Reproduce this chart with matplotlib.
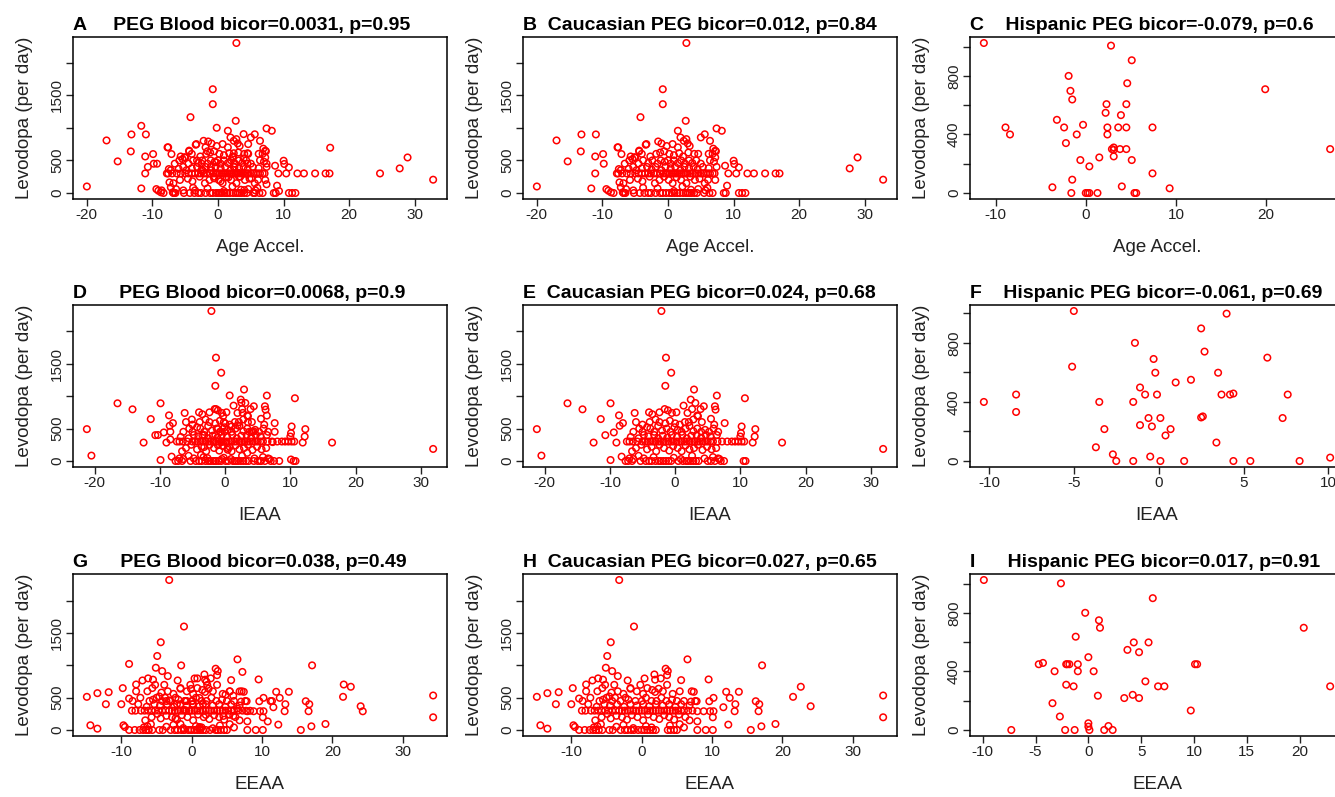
import matplotlib
matplotlib.use("Agg")
import matplotlib.pyplot as plt
from matplotlib.ticker import MultipleLocator

plt.rcParams['font.family'] = ['Liberation Sans', 'DejaVu Sans']
plt.rcParams['axes.unicode_minus'] = False

# (x, levodopa per day) pairs
# row 1: Age Accel.
cauc_age = [
    (-20.0, 100), (-17.0, 806), (-15.3, 485), (-13.2, 898), (-13.3, 638), (-11.7, 70),
    (-11.0, 898), (-11.1, 560), (-11.1, 300), (-9.9, 597), (-9.8, 449), (-9.4, 60),
    (-9.1, 35), (-8.7, 10), (-8.3, 0), (-7.7, 700), (-7.8, 300), (-7.5, 367), (-7.1, 597),
    (-7.4, 163), (-7.2, 87), (-6.9, 10), (-6.7, 0), (-4.2, 1163), (-3.3, 750), (-4.4, 638),
    (-0.8, 1591), (-0.8, 1362), (2.8, 2300), (2.7, 1107), (1.5, 954), (1.9, 852), (2.8, 826),
    (5.0, 852), (5.6, 900), (6.4, 800), (7.4, 990), (8.2, 954), (7.2, 648), (7.2, 545),
    (8.7, 418), (10.0, 495), (10.1, 445), (10.8, 392), (9.2, 300), (10.4, 300), (12.1, 300),
    (13.1, 300), (14.8, 300), (16.4, 300), (17.0, 300), (9.0, 112), (8.5, 0), (8.8, 0),
    (10.8, 0), (11.3, 0), (11.8, 0), (27.7, 377), (28.9, 545), (32.8, 204),
    (-6.8, 0), (-6.5, 0), (-5.2, 0), (-4.3, 0), (-3.6, 0), (-3.0, 0), (-2.6, 0), (-1.9, 0),
    (-1.2, 0), (-0.8, 0), (-0.3, 0), (0.2, 0), (0.6, 0), (1.0, 0), (1.4, 0), (1.8, 0),
    (2.3, 0), (2.7, 0), (3.0, 0), (3.3, 0), (3.6, 0), (4.0, 0), (4.4, 0), (5.5, 0), (6.3, 0),
    (6.8, 0), (-6.4, 60), (-5.3, 40), (-3.8, 80), (-1.6, 70), (0.9, 30), (2.2, 100),
    (3.5, 50), (4.6, 60), (5.7, 40), (6.0, 80), (-6.8, 150), (-5.8, 200), (-4.6, 220),
    (-3.9, 180), (-2.8, 250), (-2.0, 150), (-1.3, 200), (-0.6, 250), (0.1, 200), (0.7, 150),
    (1.3, 240), (2.0, 200), (2.8, 150), (3.4, 250), (4.1, 200), (4.8, 220), (5.6, 150),
    (6.1, 200), (7.2, 200), (-7.6, 300), (-7.0, 300), (-6.3, 300), (-5.7, 300), (-5.0, 300),
    (-4.5, 300), (-4.0, 300), (-3.5, 300), (-3.0, 300), (-2.6, 300), (-2.2, 300), (-1.8, 300),
    (-1.2, 300), (-0.7, 300), (-0.3, 300), (0.0, 300), (0.3, 300), (0.6, 300), (0.9, 300),
    (1.2, 300), (1.5, 300), (1.8, 300), (2.1, 300), (2.4, 300), (2.7, 300), (3.0, 300),
    (3.4, 300), (3.8, 300), (4.2, 300), (4.6, 300), (5.0, 300), (5.4, 300), (5.8, 300),
    (6.1, 300), (6.4, 300), (6.8, 300), (7.1, 300), (-7.2, 350), (-6.0, 370), (-5.3, 400),
    (-4.8, 350), (-4.0, 380), (-3.2, 400), (-2.5, 360), (-1.9, 400), (-1.0, 350), (-0.4, 400),
    (0.4, 380), (1.1, 400), (1.9, 350), (2.5, 400), (3.2, 380), (3.9, 400), (4.5, 360),
    (5.3, 400), (6.2, 380), (7.4, 400), (-6.6, 450), (-5.9, 500), (-5.4, 520), (-5.0, 540),
    (-4.5, 450), (-3.8, 500), (-3.0, 460), (-2.4, 500), (-1.6, 450), (-1.1, 500), (-0.5, 480),
    (0.0, 500), (0.4, 450), (0.9, 500), (1.5, 460), (2.0, 500), (2.6, 450), (3.2, 500),
    (3.7, 460), (4.3, 500), (5.0, 450), (6.4, 500), (7.0, 480), (-5.7, 560), (-5.1, 550),
    (-4.0, 600), (-2.7, 560), (-1.8, 600), (-1.2, 620), (-0.6, 640), (0.2, 600), (0.9, 580),
    (1.7, 610), (2.3, 560), (3.1, 620), (4.0, 600), (4.6, 600), (6.2, 600), (6.8, 600),
    (7.3, 640), (-7.6, 700), (-4.4, 650), (-3.4, 740), (-1.5, 790), (-1.0, 760), (-0.2, 720),
    (0.7, 750), (1.5, 700), (2.4, 800), (3.0, 760), (3.3, 720), (6.9, 680),
]
other_age = [
    (-11.7, 1030), (-10.7, 400), (-9.3, 449), (-8.6, 40), (-3.5, 40), (-2.2, 800), (-1.9, 700),
    (-1.6, 640), (-3.2, 500), (-2.5, 450), (-2.3, 340), (-1.1, 400), (-0.6, 225), (-0.3, 470),
    (-0.2, 1000), (0.0, 0), (0.3, 0), (0.5, 0), (0.4, 180), (1.3, 0), (1.6, 240), (2.2, 550),
    (2.4, 610), (2.5, 450), (2.4, 400), (3.9, 903), (2.9, 300), (3.1, 310), (3.2, 250),
    (3.8, 300), (3.9, 530), (4.0, 45), (4.5, 610), (4.5, 450), (4.5, 300), (4.6, 750),
    (5.1, 225), (5.4, 0), (5.6, 0), (7.4, 450), (7.4, 134), (9.3, 30), (17.1, 694), (24.7, 300),
]
hisp_age = [
    (-11.3, 1025), (2.8, 1007), (5.1, 907), (-1.9, 800), (-1.7, 698), (-1.5, 639), (4.6, 750),
    (19.9, 709), (2.3, 607), (4.5, 607), (2.2, 548), (3.9, 532), (-3.2, 500), (-0.3, 466),
    (-8.9, 448), (-2.4, 448), (2.4, 448), (3.6, 448), (4.5, 448), (7.4, 448), (-8.4, 400),
    (-1.0, 400), (2.4, 400), (-2.2, 341), (2.9, 300), (3.1, 311), (3.1, 295), (3.8, 300),
    (4.5, 300), (27.1, 300), (3.1, 250), (1.5, 243), (-0.6, 225), (5.1, 225), (0.4, 182),
    (7.4, 134), (-1.5, 91), (-3.7, 39), (4.0, 45), (9.3, 32), (-1.6, 0), (0.0, 0), (0.2, 0),
    (0.4, 0), (1.3, 0), (5.4, 0), (5.6, 0),
]

# row 2: IEAA
cauc_ieaa = [
    (-21.2, 491), (-20.5, 83), (-16.5, 889), (-14.2, 796), (-12.5, 284), (-11.4, 646),
    (-10.7, 398), (-9.9, 889), (-9.9, 15), (-9.4, 440), (-9.0, 284), (-8.6, 703), (-8.5, 543),
    (-8.0, 584), (-8.2, 67), (-7.6, 0), (-2.1, 2311), (-1.4, 1592), (-0.6, 1360), (-1.5, 1158),
    (2.9, 1101), (2.4, 946), (3.1, 894), (1.3, 853), (4.4, 843), (6.1, 843), (6.2, 791),
    (6.4, 1008), (10.7, 967), (7.6, 584), (10.2, 532), (10.1, 429), (10.0, 377), (12.3, 491),
    (12.2, 377), (11.9, 284), (16.4, 284), (31.9, 186), (10.5, 0), (10.8, 0), (8.7, 300),
    (9.2, 300), (9.7, 300), (10.2, 300), (10.6, 300), (6.6, 40), (7.0, 0), (7.5, 0),
    (-7.2, 0), (-6.6, 0), (-5.3, 0), (-4.5, 0), (-4.0, 0), (-3.6, 0), (-3.0, 0), (-2.5, 0),
    (-2.2, 0), (-1.8, 0), (-1.4, 0), (-1.0, 0), (-0.6, 0), (0.5, 0), (1.2, 0), (1.7, 0),
    (2.0, 0), (2.4, 0), (2.8, 0), (3.2, 0), (3.6, 0), (5.0, 0), (5.5, 0), (6.1, 0),
    (-7.0, 40), (-6.4, 30), (-5.6, 80), (-4.8, 40), (-3.3, 60), (-0.2, 50), (0.9, 30),
    (2.6, 80), (4.5, 40), (5.8, 60), (6.8, 30), (-6.6, 150), (-6.0, 200), (-5.2, 250),
    (-4.3, 180), (-3.6, 220), (-2.9, 150), (-2.4, 250), (-1.7, 200), (-0.9, 160), (-0.3, 230),
    (0.4, 200), (1.0, 150), (1.6, 240), (2.2, 180), (2.9, 200), (3.5, 250), (4.2, 170),
    (4.9, 220), (5.6, 180), (6.3, 200), (-7.4, 300), (-7.0, 300), (-6.5, 300), (-5.8, 300),
    (-5.0, 300), (-4.6, 300), (-4.2, 300), (-3.8, 300), (-3.4, 300), (-3.0, 300), (-2.6, 300),
    (-2.2, 300), (-1.8, 300), (-1.4, 300), (-1.0, 300), (-0.6, 300), (-0.2, 300), (0.2, 300),
    (0.6, 300), (1.0, 300), (1.4, 300), (1.8, 300), (2.2, 300), (2.6, 300), (3.0, 300),
    (3.4, 300), (3.8, 300), (4.2, 300), (4.6, 300), (5.0, 300), (5.4, 300), (5.8, 300),
    (6.5, 300), (7.2, 300), (8.0, 300), (-6.8, 370), (-5.6, 350), (-4.8, 400), (-4.1, 380),
    (-3.2, 400), (-2.6, 350), (-1.9, 390), (-1.2, 360), (-0.5, 400), (0.3, 370), (1.1, 400),
    (1.8, 350), (2.5, 390), (3.3, 400), (4.0, 360), (4.7, 400), (5.4, 380), (6.4, 400),
    (-6.4, 450), (-5.5, 500), (-5.0, 450), (-4.3, 520), (-3.8, 500), (-3.2, 450), (-2.6, 540),
    (-2.0, 470), (-1.3, 500), (-0.7, 450), (-0.1, 520), (0.4, 480), (1.0, 450), (1.6, 500),
    (2.2, 540), (2.8, 460), (3.4, 500), (4.0, 450), (4.6, 480), (5.2, 450), (5.9, 500),
    (6.6, 450), (-6.0, 600), (-5.0, 560), (-3.9, 600), (-3.0, 640), (-2.4, 600), (-1.5, 580),
    (-0.8, 620), (0.0, 580), (0.7, 560), (1.5, 600), (2.1, 600), (2.8, 640), (3.5, 690),
    (4.1, 600), (5.5, 650), (6.0, 560), (-6.2, 740), (-4.0, 750), (-3.5, 720), (-2.4, 750),
    (-1.6, 800), (-1.1, 780), (-0.5, 740), (0.2, 750), (1.9, 740), (2.6, 800), (3.4, 700),
    (3.9, 800),
]
other_ieaa = [
    (0.7, 1010), (-10.3, 400), (-8.4, 450), (-8.4, 332), (-5.1, 639), (-3.5, 400), (-3.7, 93),
    (-3.2, 216), (-2.7, 45), (-2.5, 0), (-1.5, 0), (-1.4, 800), (-1.5, 400), (-1.1, 498),
    (-0.8, 450), (-1.1, 243), (-0.6, 291), (-0.5, 30), (-0.4, 234), (-0.3, 691), (-0.2, 598),
    (-0.1, 450), (0.1, 291), (0.1, 0), (0.4, 173), (0.7, 216), (1.0, 532), (1.5, 0), (1.9, 550),
    (2.5, 898), (2.7, 741), (2.5, 295), (3.5, 598), (3.7, 450), (4.2, 450), (4.4, 457),
    (3.4, 125), (4.4, 0), (5.4, 0), (6.4, 700), (7.3, 291), (7.6, 450), (8.3, 0), (10.1, 23),
]
hisp_ieaa = [
    (-10.3, 400), (-8.4, 450), (-8.4, 332), (-5.0, 1016), (-5.1, 639), (-3.5, 400), (-3.7, 93),
    (-3.2, 216), (-2.7, 45), (-2.5, 0), (-1.5, 0), (-1.4, 800), (-1.5, 400), (-1.1, 498),
    (-0.8, 450), (-1.1, 243), (-0.6, 291), (-0.5, 30), (-0.4, 234), (-0.3, 691), (-0.2, 598),
    (-0.1, 450), (0.1, 291), (0.1, 0), (0.4, 173), (0.7, 216), (1.0, 532), (1.5, 0), (1.9, 550),
    (2.5, 898), (2.7, 741), (2.5, 295), (2.6, 302), (4.0, 998), (3.5, 598), (3.7, 450),
    (4.2, 450), (4.4, 457), (3.4, 125), (4.4, 0), (5.4, 0), (6.4, 700), (7.3, 291), (7.6, 450),
    (8.3, 0), (10.1, 23),
]

# row 3: EEAA
cauc_eeaa = [
    (-14.9, 514), (-14.4, 73), (-13.4, 571), (-13.4, 21), (-12.2, 400), (-11.8, 586),
    (-10.0, 400), (-9.8, 649), (-9.7, 73), (-9.5, 47), (-8.9, 488), (-8.9, 0), (-7.9, 706),
    (-7.0, 768), (-4.9, 1147), (-4.4, 1360), (-3.2, 2325), (-1.1, 1604), (-5.1, 965),
    (-4.2, 913), (-3.4, 836), (-2.0, 768), (0.4, 799), (1.8, 861), (3.4, 950), (3.7, 913),
    (5.6, 773), (6.5, 1095), (9.5, 784), (7.4, 592), (7.8, 446), (7.9, 291), (7.9, 135),
    (7.9, 0), (9.1, 0), (10.1, 0), (10.1, 197), (10.2, 498), (9.6, 446), (8.8, 291),
    (9.7, 291), (10.2, 291), (11.6, 353), (12.0, 592), (12.3, 83), (12.5, 498), (13.3, 400),
    (13.2, 291), (13.8, 592), (15.5, 0), (16.2, 446), (16.7, 400), (16.6, 291), (17.1, 1002),
    (17.0, 57), (19.0, 93), (21.5, 514), (22.6, 670), (24.0, 368), (34.3, 535), (34.3, 197),
    (-8.1, 0), (-7.4, 0), (-6.9, 0), (-6.5, 0), (-6.1, 0), (-5.6, 0), (-4.6, 0), (-4.1, 0),
    (-3.0, 0), (-2.4, 0), (-2.0, 0), (-1.5, 0), (-1.1, 0), (-0.5, 0), (0.0, 0), (0.4, 0),
    (0.8, 0), (1.2, 0), (1.6, 0), (2.0, 0), (3.7, 0), (4.1, 0), (4.6, 0), (5.0, 0),
    (-6.8, 40), (-6.3, 60), (-5.8, 90), (-3.6, 50), (-2.6, 80), (-1.2, 30), (0.6, 60),
    (1.4, 40), (4.0, 70), (5.4, 90), (6.0, 40), (-6.6, 150), (-5.7, 200), (-4.9, 250),
    (-4.4, 180), (-3.6, 220), (-2.8, 200), (-2.1, 160), (-1.4, 230), (-0.6, 200), (0.2, 150),
    (0.9, 240), (1.7, 200), (2.5, 170), (3.2, 230), (3.9, 200), (4.6, 160), (5.3, 240),
    (6.2, 200), (6.8, 150), (-8.5, 300), (-8.0, 300), (-7.2, 300), (-6.7, 300), (-6.2, 300),
    (-5.7, 300), (-5.2, 300), (-4.7, 300), (-4.2, 300), (-3.7, 300), (-3.2, 300), (-2.8, 300),
    (-2.4, 300), (-2.0, 300), (-1.6, 300), (-1.2, 300), (-0.8, 300), (-0.4, 300), (0.0, 300),
    (0.4, 300), (0.8, 300), (1.2, 300), (1.6, 300), (2.0, 300), (2.4, 300), (2.8, 300),
    (3.2, 300), (3.6, 300), (4.0, 300), (4.4, 300), (4.8, 300), (5.2, 300), (5.6, 300),
    (6.0, 300), (6.6, 300), (7.2, 300), (-7.6, 400), (-6.4, 360), (-5.3, 400), (-4.5, 380),
    (-3.5, 400), (-2.5, 360), (-1.6, 400), (-0.7, 380), (0.2, 400), (1.1, 370), (2.0, 400),
    (3.0, 380), (3.9, 400), (4.8, 360), (5.6, 400), (6.8, 380), (-8.4, 450), (-7.3, 500),
    (-6.0, 450), (-5.5, 470), (-5.0, 500), (-4.6, 520), (-4.2, 450), (-3.8, 500), (-3.0, 450),
    (-2.3, 500), (-1.9, 470), (-0.9, 450), (0.0, 450), (0.6, 500), (1.4, 450), (2.1, 450),
    (2.8, 500), (3.5, 450), (4.3, 470), (5.0, 450), (6.0, 450), (7.0, 440), (7.6, 450),
    (-7.9, 600), (-6.3, 600), (-5.6, 650), (-5.2, 700), (-4.3, 580), (-3.4, 600), (-2.6, 560),
    (-1.6, 640), (-0.7, 600), (0.2, 560), (0.8, 650), (1.5, 620), (1.9, 590), (2.4, 640),
    (3.0, 600), (3.6, 700), (4.4, 560), (5.4, 600), (7.1, 600), (-6.2, 800), (-5.5, 780),
    (-3.9, 700), (-1.6, 650), (-0.2, 700), (1.9, 780), (2.7, 800), (3.6, 850),
]
other_eeaa = [
    (-8.9, 1024), (-1.5, 1001), (7.2, 900), (0.8, 800), (2.1, 749), (2.2, 698), (-0.1, 637),
    (5.4, 598), (6.8, 598), (4.8, 547), (5.9, 531), (1.1, 497), (-3.6, 449), (-3.2, 458),
    (-1.0, 449), (-0.9, 449), (-0.7, 449), (0.1, 449), (11.2, 449), (11.4, 449), (21.6, 705),
    (-2.1, 401), (0.1, 401), (1.6, 401), (6.5, 332), (-1.0, 309), (-0.3, 298), (7.7, 298),
    (8.3, 298), (24.3, 290), (2.0, 234), (5.3, 240), (4.5, 218), (5.9, 218), (10.8, 133),
    (-2.3, 183), (-1.6, 92), (1.1, 46), (1.1, 23), (3.0, 27), (-6.2, 0), (-1.1, 0), (-0.2, 0),
    (1.2, 0), (2.6, 0), (3.4, 0),
]
hisp_eeaa = [
    (-9.9, 1024), (-2.6, 1001), (6.1, 900), (-0.3, 800), (1.0, 749), (1.1, 698), (-1.2, 637),
    (4.3, 598), (5.7, 598), (3.7, 547), (4.8, 531), (0.0, 497), (-4.7, 449), (-4.3, 458),
    (-2.1, 449), (-2.0, 449), (-1.8, 449), (-1.0, 449), (10.1, 449), (10.3, 449), (20.4, 698),
    (-3.2, 401), (-1.0, 401), (0.5, 401), (5.4, 332), (-2.1, 309), (-1.4, 298), (6.6, 298),
    (7.2, 298), (22.9, 298), (0.9, 234), (4.2, 240), (3.4, 218), (4.8, 218), (9.7, 133),
    (-3.4, 183), (-2.7, 92), (0.0, 46), (0.0, 23), (1.9, 27), (-7.3, 0), (-2.2, 0), (-1.3, 0),
    (0.1, 0), (1.5, 0), (2.3, 0),
]

rows = [
    ("Age Accel.", cauc_age, other_age, hisp_age,
     ["A     PEG Blood bicor=0.0031, p=0.95", "B  Caucasian PEG bicor=0.012, p=0.84",
      "C    Hispanic PEG bicor=-0.079, p=0.6"], [10, 10, 10]),
    ("IEAA", cauc_ieaa, other_ieaa, hisp_ieaa,
     ["D      PEG Blood bicor=0.0068, p=0.9", "E  Caucasian PEG bicor=0.024, p=0.68",
      "F    Hispanic PEG bicor=-0.061, p=0.69"], [10, 10, 5]),
    ("EEAA", cauc_eeaa, other_eeaa, hisp_eeaa,
     ["G      PEG Blood bicor=0.038, p=0.49", "H  Caucasian PEG bicor=0.027, p=0.65",
      "I      Hispanic PEG bicor=0.017, p=0.91"], [10, 10, 5]),
]

fig = plt.figure(figsize=(13.35, 7.97), dpi=100)
lefts = [73 / 1335, 523 / 1335, 970 / 1335]
bottoms = [1 - 199 / 797, 1 - 467 / 797, 1 - 736 / 797]
w = 374 / 1335
h = 162 / 797


def draw(ax, pts, title, xlabel, xstep, small):
    x = [p[0] for p in pts]
    y = [p[1] for p in pts]
    ax.scatter(x, y, s=22, facecolors='none', edgecolors='red', linewidths=1.1)
    xr = max(x) - min(x)
    yr = max(y) - min(y)
    ax.set_xlim(min(x) - 0.04 * xr, max(x) + 0.04 * xr)
    ax.set_ylim(min(y) - 0.04 * yr, max(y) + 0.04 * yr)
    ax.xaxis.set_major_locator(MultipleLocator(xstep))
    if small:
        ax.set_yticks([0, 200, 400, 600, 800, 1000])
        ax.set_yticklabels(['0', '', '400', '', '800', ''], rotation=90, va='center')
    else:
        ax.set_yticks([0, 500, 1000, 1500, 2000])
        ax.set_yticklabels(['0', '500', '', '1500', ''], rotation=90, va='center')
    ax.tick_params(direction='out', length=5, width=1, pad=1.5, labelsize=11, colors='#222222')
    for s in ax.spines.values():
        s.set_linewidth(1.1)
    ax.set_title(title, loc='left', fontsize=14, fontweight='bold', pad=5)
    ax.set_xlabel(xlabel, fontsize=13.5, labelpad=12, color='#222222')
    ax.set_ylabel("Levodopa (per day)", fontsize=13.5, labelpad=12, color='#222222')


for r, (xlabel, cauc, other, hisp, titles, steps) in enumerate(rows):
    blood = cauc + other
    for c, pts in enumerate([blood, cauc, hisp]):
        ax = fig.add_axes([lefts[c], bottoms[r], w, h])
        draw(ax, pts, titles[c], xlabel, steps[c], c == 2)

fig.savefig("out.png", dpi=100)
